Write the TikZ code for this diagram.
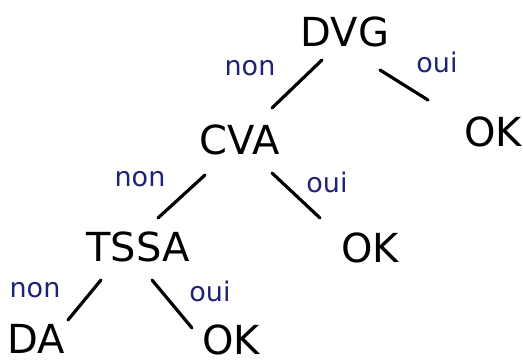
\documentclass[tikz,border=0pt]{standalone}
\usepackage{fontspec}
\setmainfont{DejaVu Sans}
\usetikzlibrary{calc}
\definecolor{ink}{RGB}{30,35,120}
\tikzset{
  word/.style={inner sep=0pt, font=\fontsize{40}{44}\selectfont},
  lab/.style={inner sep=0pt, text=ink, font=\fontsize{27}{30}\selectfont},
  edge/.style={line width=3.2pt, line cap=round, black}
}
\begin{document}
\begin{tikzpicture}[x=1pt,y=-1pt]
\useasboundingbox (0,0) rectangle (523,363);
\node[word] (dvg) at (345,32) {DVG};
\node[word] (cva) at (240,140) {CVA};
\node[word] (ok1) at (493,132) {OK};
\node[word] (tssa) at (138,247) {TSSA};
\node[word] (ok2) at (370,248) {OK};
\node[word] (da) at (36,339) {DA};
\node[word] (ok3) at (231,340) {OK};
\node[lab] (l1) at (250,68) {non};
\node[lab] (l2) at (437,62) {oui};
\node[lab] (l3) at (140,179) {non};
\node[lab] (l4) at (327,182) {oui};
\node[lab] (l5) at (35,290) {non};
\node[lab] (l6) at (210,291) {oui};
\draw[edge] ($(dvg)+(-23,28)$) -- ($(cva)+(32,-32)$);
\draw[edge] ($(dvg)+(35,38)$) -- ($(ok1)+(-65,-32)$);
\draw[edge] ($(cva)+(-35,35)$) -- ($(tssa)+(20,-29)$);
\draw[edge] ($(cva)+(32,33)$) -- ($(ok2)+(-50,-30)$);
\draw[edge] ($(tssa)+(-37,33)$) -- ($(da)+(32,-19)$);
\draw[edge] ($(tssa)+(14,33)$) -- ($(ok3)+(-39,-12)$);
\end{tikzpicture}
\end{document}
